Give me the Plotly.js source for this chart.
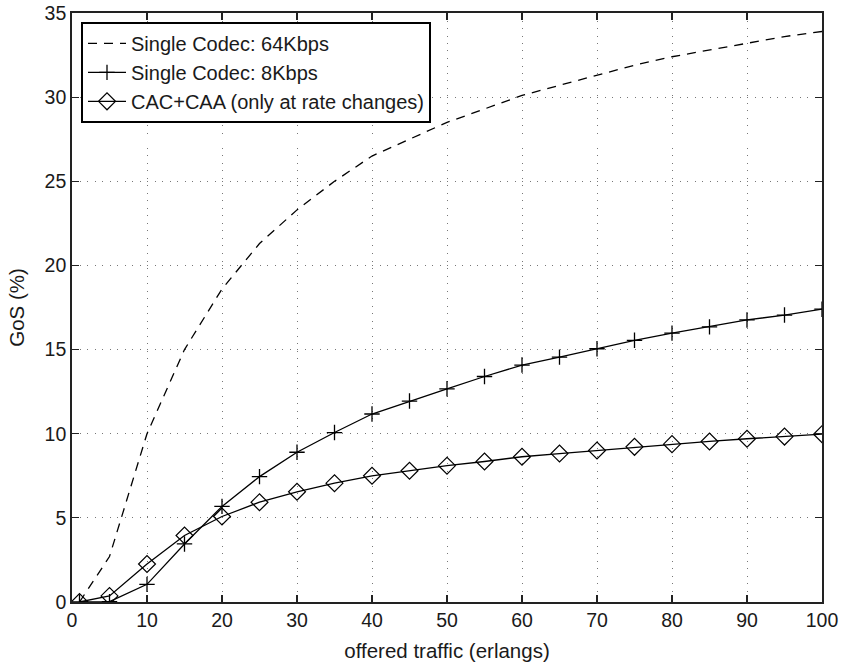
<!DOCTYPE html>
<html>
<head>
<meta charset="utf-8">
<script src="https://cdn.plot.ly/plotly-3.0.1.min.js"></script>
<style>html,body{margin:0;padding:0;background:#fff;}#chart{width:842px;height:663px;}</style>
</head>
<body>
<div id="chart"></div>
<script>
const traffic = [1, 5, 10, 15, 20, 25, 30, 35, 40, 45, 50, 55, 60, 65, 70, 75, 80, 85, 90, 95, 100];
const gos64 = [0, 2.7, 10.0, 15.0, 18.6, 21.3, 23.3, 25.0, 26.5, 27.5, 28.5, 29.3, 30.1, 30.7, 31.3, 31.9, 32.4, 32.8, 33.2, 33.6, 33.9];
const gos8 = [0, 0.02, 1.05, 3.45, 5.68, 7.45, 8.9, 10.07, 11.17, 11.94, 12.67, 13.4, 14.08, 14.55, 15.05, 15.55, 15.98, 16.35, 16.76, 17.05, 17.4];
const gosCac = [0, 0.36, 2.26, 3.95, 5.08, 5.93, 6.55, 7.06, 7.5, 7.8, 8.1, 8.35, 8.63, 8.82, 9.0, 9.22, 9.38, 9.54, 9.7, 9.83, 9.97];
const names = ["Single Codec: 64Kbps", "Single Codec: 8Kbps", "CAC+CAA (only at rate changes)"];
const xTicks = [0, 10, 20, 30, 40, 50, 60, 70, 80, 90, 100];
const yTicks = [0, 5, 10, 15, 20, 25, 30, 35];

const fam = "Liberation Sans, Arial, Helvetica, sans-serif";
const font = {family: fam, size: 19.5, color: "#1a1a1a"};
const titleFont = {family: fam, size: 20.5, color: "#1a1a1a"};
const traces = [
  {x: traffic, y: gos64, name: names[0], mode: "lines", line: {color: "#000", width: 1.3, dash: "9px,7px"}},
  {x: traffic, y: gos8, name: names[1], mode: "lines+markers", line: {color: "#000", width: 1.3},
   marker: {symbol: "cross-thin-open", size: 11, color: "#000", line: {color: "#000", width: 1.3}}},
  {x: traffic, y: gosCac, name: names[2], mode: "lines+markers", line: {color: "#000", width: 1.3},
   marker: {symbol: "diamond-open", size: 13, color: "#000", line: {color: "#000", width: 1.2}}}
];
const axisCommon = {
  showline: true, linecolor: "#222", linewidth: 1.8, mirror: "ticks",
  ticks: "inside", ticklen: 7, tickcolor: "#222", tickwidth: 1.2,
  showgrid: true, gridcolor: "#777", griddash: "1px,6.5px", gridwidth: 1,
  zeroline: false, tickfont: font
};
const layout = {
  width: 842, height: 663,
  margin: {l: 72, r: 20, t: 13, b: 61},
  paper_bgcolor: "#fff", plot_bgcolor: "#fff",
  font: font,
  showlegend: true,
  legend: {x: 0.012, y: 0.985, xanchor: "left", yanchor: "top", bgcolor: "#fff",
           bordercolor: "#000", borderwidth: 2, itemwidth: 38,
           font: {family: fam, size: 20, color: "#1a1a1a"}, tracegroupgap: 0},
  xaxis: Object.assign({}, axisCommon, {range: [0, 100], tickvals: xTicks,
           title: {text: "offered traffic (erlangs)", font: titleFont, standoff: 13}}),
  yaxis: Object.assign({}, axisCommon, {range: [0, 35], tickvals: yTicks,
           title: {text: "GoS (%)", font: titleFont, standoff: 14}})
};
Plotly.newPlot("chart", traces, layout, {displayModeBar: false, staticPlot: true});
</script>
</body>
</html>
